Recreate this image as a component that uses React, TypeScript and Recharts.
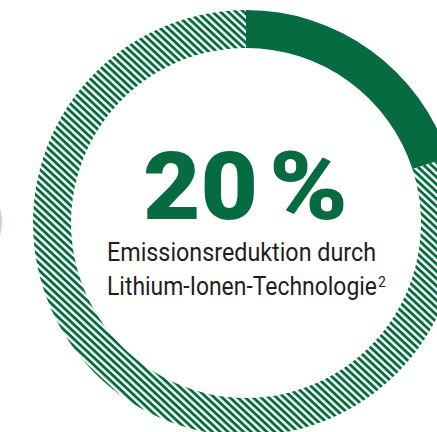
import React from "react";
import { PieChart, Pie, Cell } from "recharts";

const categories = ["Emissionsreduktion", "Rest"];
const values = [20, 80];
const neighborCategories = ["Nachbar"];
const neighborValues = [100];
const headlineNumber = "20";
const headlineUnit = "%";
const captionLines = ["Emissionsreduktion durch", "Lithium-Ionen-Technologie"];
const footnote = "2";

const GREEN = "#066b40";

const data = categories.map((name, i) => ({ name, value: values[i] }));
const neighborData = neighborCategories.map((name, i) => ({ name, value: neighborValues[i] }));

export default function App() {
  return (
    <div style={{ position: "absolute", left: 0, top: 0, width: 437, height: 432, background: "#fff" }}>
      <PieChart width={437} height={432} margin={{ top: 0, right: 0, bottom: 0, left: 0 }}>
        <defs>
          <pattern id="hatch" patternUnits="userSpaceOnUse" width="5.3" height="5.3" patternTransform="rotate(43)">
            <rect x="0" y="0" width="5.3" height="2.9" fill={GREEN} />
          </pattern>
        </defs>
        <Pie
          data={neighborData}
          dataKey="value"
          cx={-46}
          cy={222}
          innerRadius={40}
          outerRadius={48}
          startAngle={90}
          endAngle={-270}
          stroke="none"
          isAnimationActive={false}
        >
          <Cell fill="#b9dccb" />
        </Pie>
        <Pie
          data={data}
          dataKey="value"
          cx={246}
          cy={223}
          innerRadius={175}
          outerRadius={213}
          startAngle={90}
          endAngle={-270}
          stroke="none"
          isAnimationActive={false}
        >
          <Cell fill={GREEN} />
          <Cell fill="url(#hatch)" />
        </Pie>
        <text
          x={143}
          y={219}
          fontFamily="Roboto, sans-serif"
          fontWeight={900}
          fontSize={94}
          fill={GREEN}
          textLength={115}
          lengthAdjust="spacingAndGlyphs"
        >
          {headlineNumber}
        </text>
        <text
          x={269}
          y={219}
          fontFamily="Roboto, sans-serif"
          fontWeight={900}
          fontSize={94}
          fill={GREEN}
          textLength={79}
          lengthAdjust="spacingAndGlyphs"
        >
          {headlineUnit}
        </text>
        <text
          x={107}
          y={261}
          fontFamily="Roboto, sans-serif"
          fontWeight={400}
          fontSize={25}
          fill="#1e1e1e"
          textLength={269}
          lengthAdjust="spacingAndGlyphs"
        >
          {captionLines[0]}
        </text>
        <text x={107} y={295} fontFamily="Roboto, sans-serif" fontWeight={400} fontSize={25} fill="#1e1e1e">
          <tspan textLength={270} lengthAdjust="spacingAndGlyphs">
            {captionLines[1]}
          </tspan>
          <tspan x={378} dy={-8} fontSize={14}>
            {footnote}
          </tspan>
        </text>
      </PieChart>
    </div>
  );
}
